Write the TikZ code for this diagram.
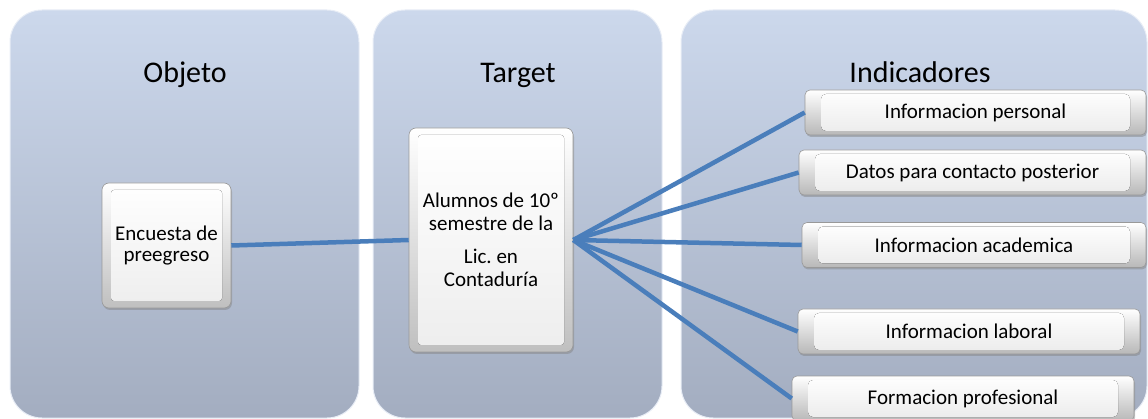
\documentclass[tikz,border=0pt]{standalone}
\usepackage{fontspec}
\setmainfont{Carlito}
\usetikzlibrary{calc,shadows}
\definecolor{paneltop}{HTML}{CCD8EC}
\definecolor{panelbottom}{HTML}{A3ADC0}
\definecolor{linkblue}{HTML}{4A7EBB}

\tikzstyle{panel}=[rounded corners=32pt,top color=paneltop,bottom color=panelbottom,draw=white!55!paneltop,line width=1pt,minimum height=408pt]
\tikzstyle{title}=[font=\fontsize{30}{36}\selectfont,anchor=base]
\tikzstyle{key box}=[rounded corners=7pt,top color=white,bottom color=black!25,draw=black!40,line width=0.6pt,
  drop shadow={shadow xshift=1pt,shadow yshift=-2pt,opacity=0.45},align=center,
  path picture={\fill[rounded corners=3pt,top color=white,bottom color=black!7]
    ($(path picture bounding box.north west)+(9pt,-7pt)$) rectangle ($(path picture bounding box.south east)+(-9pt,7pt)$);}]
\tikzstyle{item box}=[rounded corners=5pt,top color=white,bottom color=black!28,draw=black!40,line width=0.6pt,
  drop shadow={shadow xshift=1pt,shadow yshift=-2pt,opacity=0.45},minimum height=45pt,
  font=\fontsize{21}{23}\selectfont,
  path picture={\fill[top color=white,bottom color=black!8]
    ($(path picture bounding box.north west)+(16pt,-4pt)$) rectangle ($(path picture bounding box.south east)+(-16pt,4pt)$);}]
\tikzstyle{edge}=[draw,linkblue,line width=4.5pt]

\begin{document}
\begin{tikzpicture}[x=1pt,y=-1pt]
    \useasboundingbox (0,0) rectangle (1148,419);

    % columns
    \foreach \pos/\name/\w in {{(184.5,214)/pobj/349}, {(517.5,214)/ptar/289}, {(914,214)/pind/466}}
    \node[panel,minimum width=\w pt] (\name) at \pos {};

    \node[title] (tobj) at (185,83) {Objeto};
    \node[title] (ttar) at (518,83) {Target};
    \node[title] (tind) at (920,83) {Indicadores};

    \node[key box,minimum width=129pt,minimum height=125pt,font=\fontsize{21}{21.5}\selectfont]
      (encuesta) at (166.5,245.5) {Encuesta de\\preegreso};
    \node[key box,minimum width=164pt,minimum height=224pt,font=\fontsize{21}{23.5}\selectfont]
      (alumnos) at (491,240) {Alumnos de 10º\\semestre de la\\[9pt]Lic.\ en\\Contaduría};

    \foreach \pos/\name/\txt/\w in {{(975.5,112.5)/ipers/Informacion personal/341},
        {(972.5,172.5)/idatos/Datos para contacto posterior/347}, {(974,245)/iacad/Informacion academica/344},
        {(969,331.5)/ilab/Informacion laboral/342}, {(963,398.5)/iform/Formacion profesional/342}}
    \node[item box,minimum width=\w pt] (\name) at \pos {\txt};

    % links
    \path[edge] (encuesta.east) -- (alumnos.west);
    \foreach \dest in {ipers, idatos, iacad, ilab, iform}
    \path[edge] (alumnos.east) -- (\dest.west);

\end{tikzpicture}
\end{document}
